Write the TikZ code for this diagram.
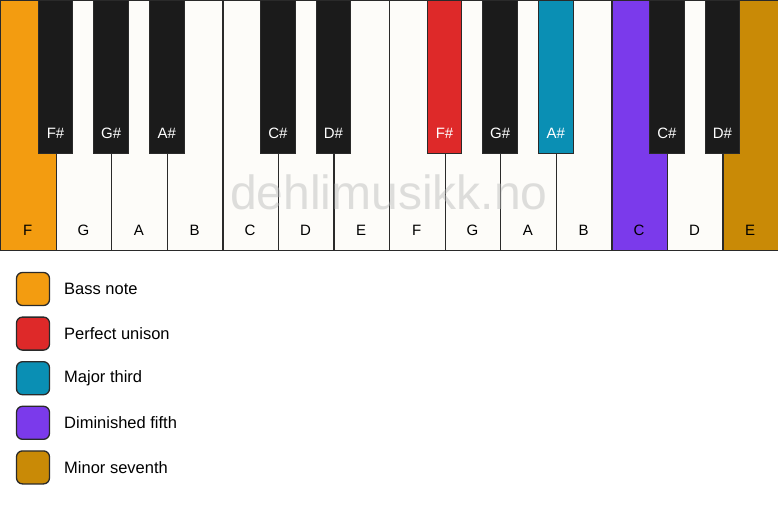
\documentclass[tikz,border=0pt]{standalone}
\usepackage{fontspec}
\setmainfont{Liberation Sans}
\definecolor{bass}{HTML}{F39C10}
\definecolor{unison}{HTML}{DE2929}
\definecolor{third}{HTML}{0A8FB4}
\definecolor{dimfifth}{HTML}{7B3AEB}
\definecolor{minseventh}{HTML}{C98A06}
\definecolor{keywhite}{HTML}{FDFCF9}
\definecolor{keyblack}{HTML}{1B1B1B}
\definecolor{keyedge}{HTML}{2A2A2A}
\tikzset{
  whitekey/.style={draw=keyedge, line width=1.3pt, minimum width=55.57pt, minimum height=250pt, anchor=north west, inner sep=0pt},
  blackkey/.style={draw=keyedge, line width=0.8pt, minimum width=34.5pt, minimum height=153pt, anchor=north, inner sep=0pt},
  keylabel/.style={font=\fontsize{15}{18}\selectfont, inner sep=0pt},
  swatch/.style={draw=keyedge, line width=1.3pt, rounded corners=6pt, minimum size=33pt, inner sep=0pt},
  legendtext/.style={font=\fontsize{16.5}{20}\selectfont, anchor=west, inner sep=0pt}
}
\begin{document}
\begin{tikzpicture}[x=1pt, y=-1pt]
\useasboundingbox (0,0) rectangle (778,506);
% white keys
\foreach \n/\c [count=\i from 0] in {F/bass, G/keywhite, A/keywhite, B/keywhite, C/keywhite, D/keywhite, E/keywhite, F/keywhite, G/keywhite, A/keywhite, B/keywhite, C/dimfifth, D/keywhite, E/minseventh} {
  \node[whitekey, fill=\c] (w\i) at (\i*55.57,0) {};
  \node[keylabel] (wl\i) at (\i*55.57+27.8,230) {\n};
}
% black keys
\foreach \k/\n/\c in {1/F\#/keyblack, 2/G\#/keyblack, 3/A\#/keyblack, 5/C\#/keyblack, 6/D\#/keyblack, 8/F\#/unison, 9/G\#/keyblack, 10/A\#/third, 12/C\#/keyblack, 13/D\#/keyblack} {
  \node[blackkey, fill=\c] (b\k) at (\k*55.57,0) {};
  \node[keylabel, text=white] (bl\k) at (\k*55.57,133) {\n};
}
% watermark
\node[font=\fontsize{48}{54}\selectfont, text=black!28, text opacity=0.45, inner sep=0pt] (mark) at (389,192) {dehlimusikk.no};
% legend
\foreach \c/\t [count=\i from 0] in {bass/Bass note, unison/Perfect unison, third/Major third, dimfifth/Diminished fifth, minseventh/Minor seventh} {
  \node[swatch, fill=\c] (s\i) at (33,289+\i*44.6) {};
  \node[legendtext] (t\i) at (64,289+\i*44.6) {\t};
}
\end{tikzpicture}
\end{document}
